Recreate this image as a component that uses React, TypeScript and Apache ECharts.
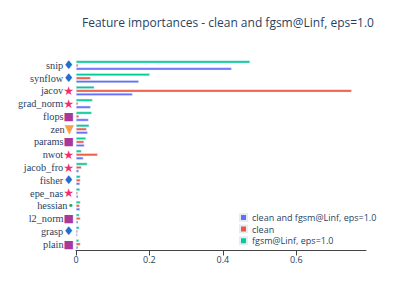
import React, { useEffect, useRef } from "react";
import * as echarts from "echarts";

const categories = ["snip", "synflow", "jacov", "grad_norm", "flops", "zen", "params", "nwot", "jacob_fro", "fisher", "epe_nas", "hessian", "l2_norm", "grasp", "plain"];
const bothVals = [0.424, 0.171, 0.154, 0.040, 0.034, 0.032, 0.023, 0.020, 0.008, 0.011, 0.006, 0.011, 0.006, 0.004, 0.006];
const cleanVals = [0.006, 0.040, 0.751, 0.006, 0.008, 0.029, 0.022, 0.059, 0.015, 0.012, 0.005, 0.010, 0.012, 0.005, 0.012];
const fgsmVals = [0.474, 0.201, 0.050, 0.045, 0.043, 0.036, 0.027, 0.015, 0.031, 0.012, 0.011, 0.012, 0.009, 0.009, 0.008];
const markerGlyphs = ["♦", "♦", "★", "★", "■", "▼", "■", "★", "★", "♦", "★", "•", "■", "♦", "■"];
const markerColors = ["#1f6fcf", "#1f6fcf", "#ef2f6c", "#ef2f6c", "#a8399b", "#f5a04f", "#a8399b", "#ef2f6c", "#ef2f6c", "#1f6fcf", "#ef2f6c", "#2ca25f", "#a8399b", "#1f6fcf", "#a8399b"];
const xTicks = [0, 0.2, 0.4, 0.6];

const seriesNames = ["clean and fgsm@Linf, eps=1.0", "clean", "fgsm@Linf, eps=1.0"];
const seriesColors = ["#636efa", "#EF553B", "#00cc96"];

const SERIF = "'Liberation Serif', 'Times New Roman', 'DejaVu Serif', serif";

export default function App() {
  const ref = useRef<HTMLDivElement>(null);
  useEffect(() => {
    if (!ref.current) return;
    const chart = echarts.init(ref.current, null, { renderer: "svg" });
    const rich: Record<string, any> = {
      n: { fontFamily: SERIF, fontSize: 10.3, color: "#2a3f5f" },
    };
    markerGlyphs.forEach((g, i) => {
      rich["m" + i] = { fontFamily: "DejaVu Sans", fontSize: g === "•" ? 11 : g === "■" ? 11 : 12, color: markerColors[i] };
    });
    const valsList = [bothVals, cleanVals, fgsmVals];
    chart.setOption({
      animation: false,
      backgroundColor: "#ffffff",
      title: {
        text: "Feature importances - clean and fgsm@Linf, eps=1.0",
        left: 77,
        top: 11,
        textStyle: { fontFamily: "Open Sans", fontSize: 12, fontWeight: "normal", color: "#2a3f5f" },
      },
      legend: {
        orient: "vertical",
        left: 234,
        top: 208,
        data: seriesNames,
        icon: "rect",
        itemWidth: 7,
        itemHeight: 7,
        itemGap: 2.6,
        textStyle: { fontFamily: "Open Sans", fontSize: 9, color: "#2a3f5f" },
      },
      grid: { left: 76, right: 49, top: 59, bottom: 46.5, containLabel: false },
      xAxis: {
        type: "value",
        min: 0,
        max: 0.79,
        interval: 0.2,
        splitLine: { show: false },
        axisLine: { show: true, lineStyle: { color: "#444", width: 1 } },
        axisTick: { show: true, length: 5, lineStyle: { color: "#444" }, customValues: xTicks },
        axisLabel: { customValues: xTicks, fontFamily: "Open Sans", fontSize: 9, color: "#2a3f5f", margin: 4 },
      },
      yAxis: {
        type: "category",
        inverse: true,
        data: categories,
        axisLine: { show: false },
        axisTick: { show: false },
        axisLabel: {
          interval: 0,
          margin: 2,
          fontFamily: SERIF,
          fontSize: 10.3,
          color: "#2a3f5f",
          formatter: (v: string, i: number) => `{n|${v}}{m${i}|${markerGlyphs[i]}}`,
          rich,
        },
      },
      series: [2, 1, 0].map((k) => ({
        name: seriesNames[k],
        type: "bar",
        data: valsList[k],
        barWidth: 2.8,
        barGap: "25%",
        itemStyle: { color: seriesColors[k], borderColor: "#E5ECF6", borderWidth: 0.5 },
      })),
    });
    return () => chart.dispose();
  }, []);
  return <div ref={ref} style={{ position: "fixed", left: 0, top: 0, width: 415, height: 297 }} />;
}
